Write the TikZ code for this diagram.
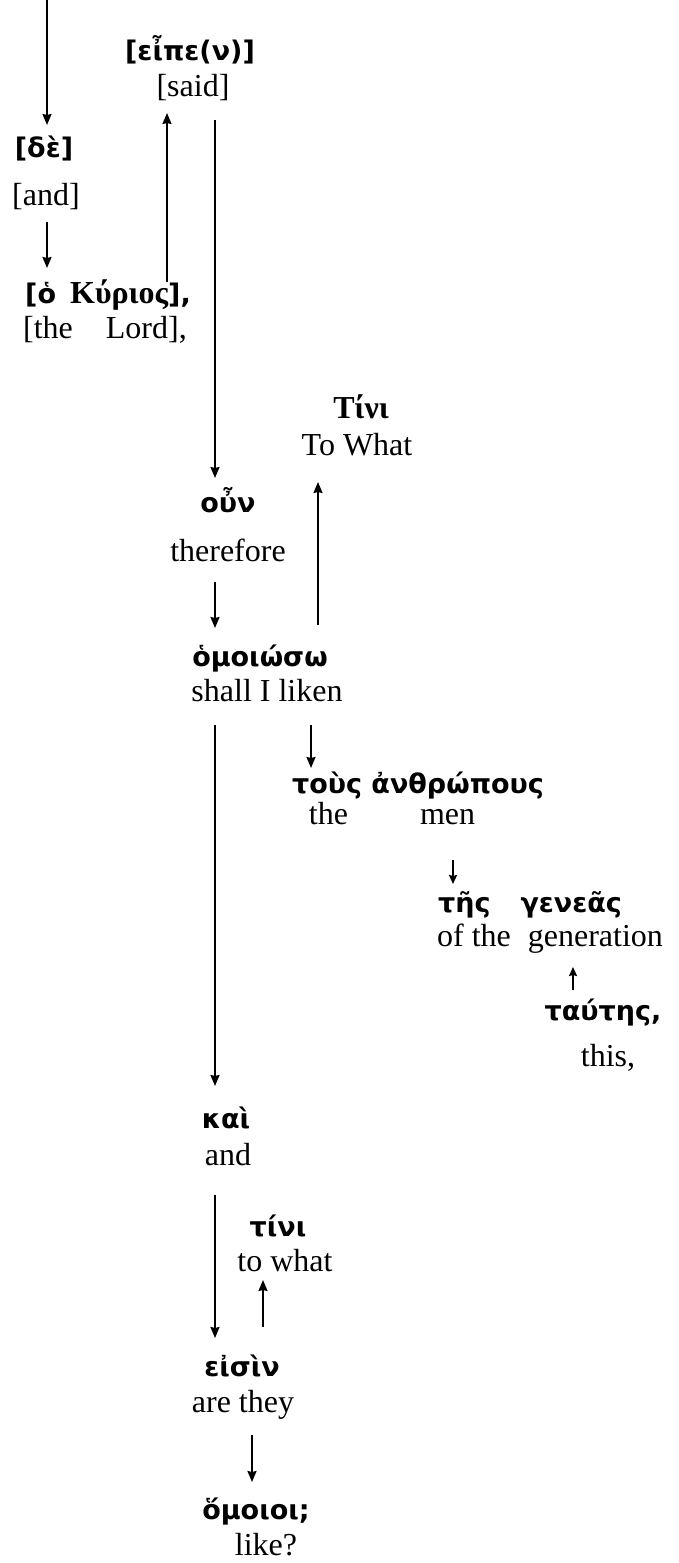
\documentclass[tikz,border=0pt]{standalone}
\usepackage{fontspec}
\setmainfont{Liberation Serif}
\newfontfamily\grk{DejaVu Sans}
\newfontfamily\grs{Liberation Serif}
\newcommand\serifgr[1]{{\fontsize{32}{36}\selectfont\grs\bfseries #1}}
\usetikzlibrary{arrows.meta}
\begin{document}
\begin{tikzpicture}[x=1pt,y=-1pt,
  gr/.style={anchor=base,inner sep=0pt,font=\fontsize{27}{30}\selectfont\grk\bfseries},
  en/.style={anchor=base,inner sep=0pt,font=\fontsize{32}{36}\selectfont},
  arr/.style={line width=1.8pt,-{Stealth[length=11pt,width=9pt,inset=1pt]}},
  sarr/.style={line width=1.8pt,-{Stealth[length=9pt,width=8pt,inset=1pt]}}]
\useasboundingbox (0,0) rectangle (678,1563);

% words: Greek line above, English gloss below
\node[gr] (eipe) at (190,60) {[εἶπε(ν)]};
\node[en] (said) at (193,96) {[said]};
\node[gr] (de) at (44,157) {[δὲ]};
\node[en] (and1) at (46,205) {[and]};
\node[gr] (kyrios) at (108,303) {[ὁ\hspace{14pt}\serifgr{Κύριος}],};
\node[en] (lord) at (105,338) {[the\hspace{33pt}Lord],};
\node[gr] (tini1) at (361,418) {\serifgr{Τίνι}};
\node[en] (towhat1) at (357,455) {To What};
\node[gr] (oun) at (228,512) {οὖν};
\node[en] (therefore) at (228,561) {therefore};
\node[gr] (homoioso) at (260,666) {ὁμοιώσω};
\node[en] (liken) at (267,701) {shall I liken};
\node[gr] (anthropous) at (418,793) {τοὺς ἀνθρώπους};
\node[en] (themen) at (392,824) {the\hspace{72pt}men};
\node[gr] (geneas) at (530,912) {τῆς\hspace{30pt}γενεᾶς};
\node[en] (generation) at (550,946) {of the\hspace{17pt}generation};
\node[gr] (tautes) at (603,1020) {ταύτης,};
\node[en] (this) at (608,1066) {this,};
\node[gr] (kai) at (226,1128) {καὶ};
\node[en] (and2) at (228,1165) {and};
\node[gr] (tini2) at (278,1236) {τίνι};
\node[en] (towhat2) at (285,1271) {to what};
\node[gr] (eisin) at (242,1376) {εἰσὶν};
\node[en] (arethey) at (243,1412) {are they};
\node[gr] (homoioi) at (256,1519) {ὅμοιοι;};
\node[en] (like) at (266,1555) {like?};

% free arrow ends
\coordinate (top) at (47,0);
\coordinate (said-in) at (167,113);
\coordinate (said-out) at (215,120);
\coordinate (tini1-in) at (318,482);
\coordinate (liken-out) at (215,725);

% connectors
\draw[arr] (top) -- (top |- 0,125);
\draw[arr] (47,222) -- (47,268);
\draw[arr] (167,282) -- (said-in);
\draw[arr] (said-out) -- (215,478);
\draw[arr] (215,582) -- (215,628);
\draw[arr] (318,625) -- (tini1-in);
\draw[arr] (liken-out) -- (215,1086);
\draw[arr] (311,725) -- (311,768);
\draw[sarr] (453,860) -- (453,884);
\draw[sarr] (573,990) -- (573,967);
\draw[arr] (215,1195) -- (215,1338);
\draw[arr] (263,1327) -- (263,1280);
\draw[arr] (252,1435) -- (252,1482);
\end{tikzpicture}
\end{document}
